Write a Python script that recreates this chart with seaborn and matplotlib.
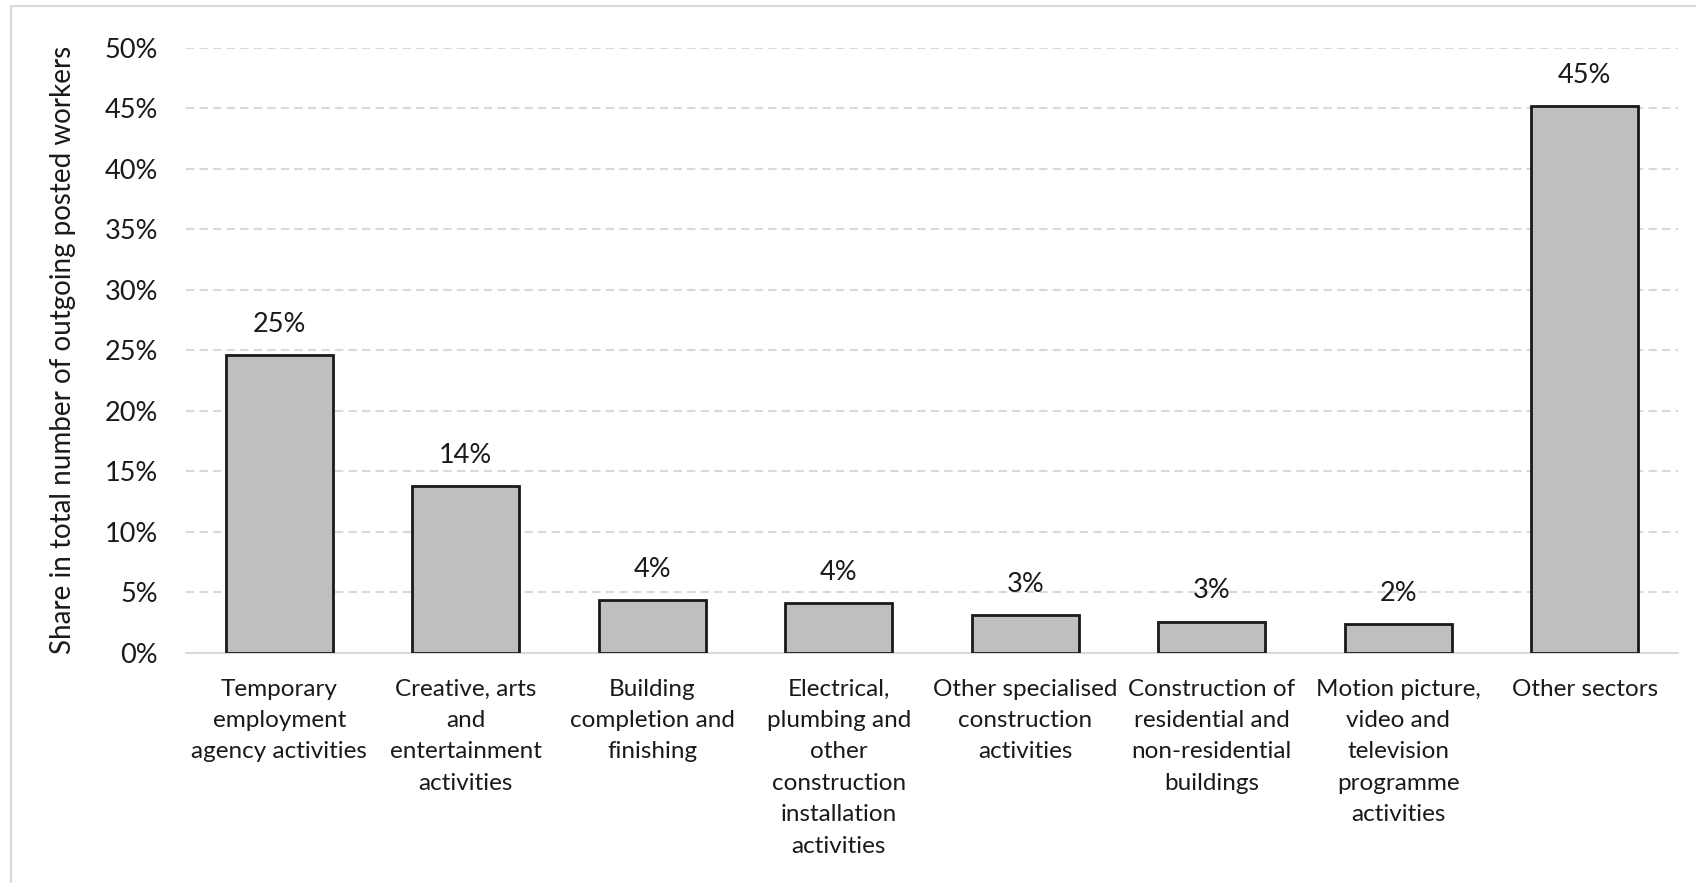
import matplotlib
matplotlib.use("Agg")
import matplotlib.pyplot as plt
import seaborn as sns
import pandas as pd
from matplotlib.lines import Line2D

# Sector shares of outgoing posted workers (%)
categories = [
    "Temporary\nemployment\nagency activities",
    "Creative, arts\nand\nentertainment\nactivities",
    "Building\ncompletion and\nfinishing",
    "Electrical,\nplumbing and\nother\nconstruction\ninstallation\nactivities",
    "Other specialised\nconstruction\nactivities",
    "Construction of\nresidential and\nnon-residential\nbuildings",
    "Motion picture,\nvideo and\ntelevision\nprogramme\nactivities",
    "Other sectors",
]
shares = [24.6, 13.8, 4.4, 4.1, 3.1, 2.6, 2.4, 45.2]
y_ticks = [0, 5, 10, 15, 20, 25, 30, 35, 40, 45, 50]
y_label = "Share in total number of outgoing posted workers"

sns.set_theme(style="white")
plt.rcParams["font.family"] = ["Lato", "DejaVu Sans"]

text_color = "#1a1a1a"
W, H = 1696, 883
fig = plt.figure(figsize=(W / 100, H / 100), dpi=100)
ax = fig.add_axes([186 / W, (H - 653) / H, (1678 - 186) / W, (653 - 47.7) / H])

df = pd.DataFrame({"sector": categories, "share": shares})
sns.barplot(data=df, x="sector", y="share", ax=ax, color="#bfbfbf",
            saturation=1, edgecolor="#1a1a1a", linewidth=2.0, width=0.575,
            zorder=3)

ax.set_ylim(0, 50)
ax.set_xlim(-0.5, len(categories) - 0.5)
ax.set_yticks(y_ticks)
ax.set_yticklabels([f"{t}%" for t in y_ticks], fontsize=19.5, color=text_color)
ax.tick_params(axis="y", length=0, pad=20)
ax.tick_params(axis="x", length=0, pad=18.5)
for lbl in ax.get_xticklabels():
    lbl.set_fontsize(17.5)
    lbl.set_color(text_color)
    lbl.set_linespacing(1.61)
    lbl.set_verticalalignment("top")

ax.set_xlabel("")
ax.set_ylabel(y_label, fontsize=20, color=text_color, labelpad=0)
ax.yaxis.set_label_coords(-110 / (1678 - 186), 0.5)

# Dashed horizontal gridlines
for t in y_ticks[1:]:
    ax.axhline(t, color="#d9d9d9", linestyle=(0, (4, 2.5)), linewidth=1.5, zorder=1)

for side in ["top", "right", "left"]:
    ax.spines[side].set_visible(False)
ax.spines["bottom"].set_color("#d9d9d9")
ax.spines["bottom"].set_linewidth(1.5)

# Value labels above each bar
for i, v in enumerate(shares):
    ax.annotate(f"{v:.0f}%", xy=(i, v), xytext=(0, 13), textcoords="offset points",
                ha="center", va="bottom", fontsize=19.5, color=text_color)

# Light frame around the chart area
fig.add_artist(Line2D([11 / W, 1], [1 - 6 / H, 1 - 6 / H], color="#d9d9d9",
                      linewidth=1.5, transform=fig.transFigure))
fig.add_artist(Line2D([11 / W, 11 / W], [0, 1 - 6 / H], color="#d9d9d9",
                      linewidth=1.5, transform=fig.transFigure))

fig.savefig("out.png", dpi=100, facecolor="white")
